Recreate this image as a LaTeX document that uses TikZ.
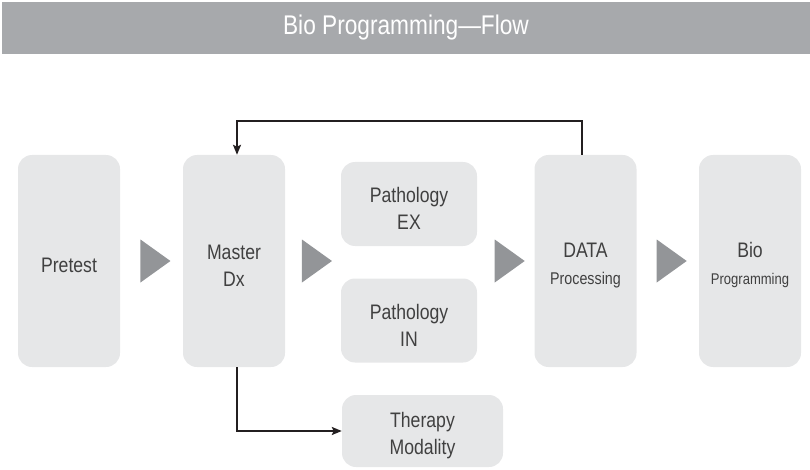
\documentclass[tikz,border=0pt]{standalone}
\usepackage{fontspec}
\setmainfont{Liberation Sans}[FakeStretch=0.84]
\usepackage{xcolor}
\usepackage{tikz}
\usetikzlibrary{positioning,calc,arrows.meta,shapes.geometric}
\definecolor{BarGray}{HTML}{A7A9AC}
\definecolor{BoxGray}{HTML}{E6E7E8}
\definecolor{TriGray}{HTML}{939598}
\definecolor{InkDark}{HTML}{231F20}
\definecolor{TextGray}{HTML}{404040}
\tikzset{
    stagebox/.style={rounded corners=14pt, fill=BoxGray, text=TextGray, align=center, inner sep=0pt, text height=51pt, font=\fontsize{21}{27}\selectfont},
    tallbox/.style={stagebox, minimum width=102pt, minimum height=212pt},
    flatbox/.style={stagebox, minimum width=136pt, minimum height=84pt},
    flowtri/.style={isosceles triangle, isosceles triangle stretches, fill=TriGray, minimum width=43pt, minimum height=30pt, inner sep=0pt},
    loopline/.style={draw=InkDark, line width=2pt, -{Stealth[length=10pt,width=8pt,inset=2pt]}}
}

\begin{document}
\begin{tikzpicture}[
        x=1pt, y=-1pt,
        % Style cho thanh tiêu đề
        titlebar/.style={
            fill=BarGray,
            text=white,
            minimum width=808pt,
            minimum height=52pt,
            inner sep=0pt,
            font=\fontsize{27}{32}\selectfont
        }
    ]
        \useasboundingbox (0,0) rectangle (810,470);

        % --- TIÊU ĐỀ ---
        \node[titlebar] (title) at (406,28) {Bio Programming---Flow};

        % --- CÁC BƯỚC ---
        \node[tallbox, text height=24pt] (pretest) at (69,261) {Pretest};
        \node[tallbox] (master) at (234,261) {Master\\Dx};
        \node[flatbox] (pathex) at (409,204) {Pathology\\EX};
        \node[flatbox] (pathin) at (409,320.5) {Pathology\\IN};
        \node[tallbox] (data) at (585.5,261) {DATA\\\fontsize{17}{24}\selectfont Processing};
        \node[tallbox] (bio) at (750,261) {Bio\\\fontsize{15.5}{24}\selectfont Programming};
        \node[stagebox, minimum width=161pt, minimum height=72pt] (therapy) at (422.5,431) {Therapy\\Modality};

        % --- TAM GIÁC NỐI ---
        \path (pretest.east) -- (master.west) node[flowtri, midway] (tri1) {};
        \path (master.east) -- (master.east -| pathex.west) node[flowtri, midway] (tri2) {};
        \path (data.west -| pathex.east) -- (data.west) node[flowtri, midway] (tri3) {};
        \path (data.east) -- (bio.west) node[flowtri, midway] (tri4) {};

        % --- MŨI TÊN ---
        \coordinate (looptop) at (0,121);
        \draw[loopline] ([xshift=-4pt]data.north) -- ([xshift=-4pt]data.north |- looptop) -| ([xshift=3pt]master.north);
        \draw[loopline] ([xshift=3pt]master.south) |- (therapy.west);

    \end{tikzpicture}
\end{document}
